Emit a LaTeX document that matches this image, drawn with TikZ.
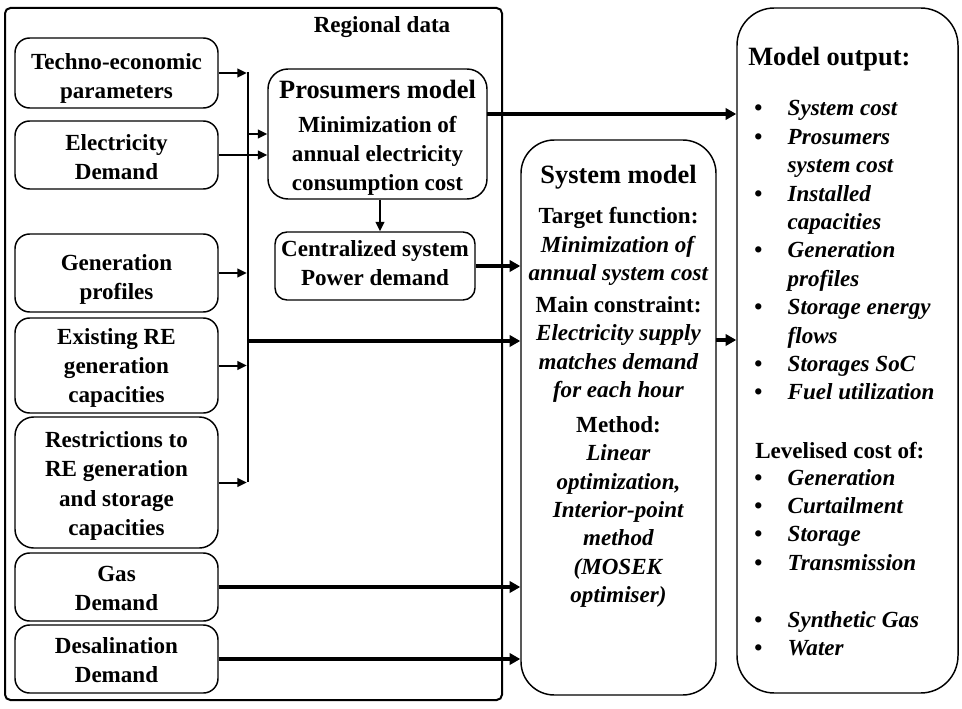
\documentclass[tikz,border=0pt]{standalone}
\usepackage{fontspec}
\setmainfont{Liberation Serif}
\usetikzlibrary{arrows.meta,calc}
\newcommand\firstln[1]{\rule{0pt}{\dimexpr 15.05pt + #1pt\relax}}
\newcommand\lastln{\strut}
\begin{document}
\begin{tikzpicture}[x=0.75pt,y=-0.75pt,
  font=\fontsize{17.3}{21.5}\selectfont\bfseries,
  box/.style={draw, line width=1.1pt, align=center, inner sep=0pt},
  inbox/.style={box, rounded corners=11pt, minimum width=152.25pt, font=\fontsize{17.3}{21.8}\selectfont\bfseries},
  big/.style={font=\fontsize{19.8}{22}\selectfont\bfseries},
  thinarr/.style={line width=1.5pt, -{Triangle[length=7pt,width=6.5pt]}},
  thickarr/.style={line width=3pt, -{Triangle[length=8pt,width=8.5pt]}},
  txt/.style={align=center, inner sep=0pt, font=\fontsize{17.3}{21.3}\selectfont\bfseries},
  ]
\useasboundingbox (0,0) rectangle (962,709);

% regional data container
\node[draw, line width=1.5pt, rounded corners=4pt, minimum width=372.75pt, minimum height=519pt, inner sep=0pt] (region) at (253.5,354) {};
\node[inner sep=0pt] (regtitle) at (382,27) {Regional data};

% input boxes
\node[inbox, minimum height=52.5pt] (techno) at (116.5,73) {\firstln{8.5}Techno-economic\\parameters\lastln};
\node[inbox, minimum height=51pt] (elec) at (116.5,155) {\firstln{6}Electricity\\Demand\lastln};
\node[inbox, minimum height=58.5pt] (gen) at (116.5,273) {\firstln{10}Generation\\profiles\lastln};
\node[inbox, minimum height=71.25pt] (exist) at (116.5,365.5) {\firstln{3}Existing RE\\generation\\capacities\lastln};
\node[inbox, minimum height=98.25pt, rounded corners=14pt] (restr) at (116.5,482.5) {\firstln{5}Restrictions to\\RE generation\\and storage\\capacities\lastln};
\node[inbox, minimum height=51pt] (gas) at (116.5,587) {\firstln{4.5}Gas\\Demand\lastln};
\node[inbox, minimum height=51pt] (desal) at (116.5,659) {\firstln{4.5}Desalination\\Demand\lastln};

% prosumers model
\node[box, rounded corners=15pt, minimum width=164.25pt, minimum height=97.5pt] (pros) at (377.5,134)
  {\rule{0pt}{22pt}{\fontsize{19.8}{22}\selectfont Prosumers model}\\[4pt]Minimization of\\annual electricity\\consumption cost\lastln};
\node[box, rounded corners=9pt, minimum width=150pt, minimum height=51pt] (cent) at (375,266)
  {\firstln{-1}Centralized system\\Power demand\lastln};

% system model
\node[box, rounded corners=25pt, minimum width=146.25pt, minimum height=416.25pt] (sys) at (618.5,417.5) {};
\node[big, inner sep=0pt] (systitle) at (618.5,177) {System model};
\node[txt] (target) at (618.5,246.5) {Target function:\\\textit{Minimization of}\\\textit{annual system cost}};
\node[txt] (constr) at (618.5,349.5) {Main constraint:\\\textit{Electricity supply}\\\textit{matches demand}\\\textit{for each hour}};
\node[txt] (method) at (618.5,512) {Method:\\\textit{Linear}\\\textit{optimization,}\\\textit{Interior-point}\\\textit{method}\\\textit{(MOSEK}\\\textit{optimiser)}};

% model output
\node[box, rounded corners=28pt, minimum width=165.75pt, minimum height=513.75pt] (out) at (847.5,350.5) {};
\node[big, inner sep=0pt, anchor=west] (outtitle) at (748,59) {Model output:};
\node[inner sep=0pt, anchor=base west, font=\fontsize{17.3}{21.3}\selectfont\bfseries] (list1) at (754,116)
  {\begin{tabular}[t]{@{}c@{\hspace{19pt}}l@{}}
   \textbullet & \textit{System cost}\\
   \textbullet & \textit{Prosumers}\\
               & \textit{system cost}\\
   \textbullet & \textit{Installed}\\
               & \textit{capacities}\\
   \textbullet & \textit{Generation}\\
               & \textit{profiles}\\
   \textbullet & \textit{Storage energy}\\
               & \textit{flows}\\
   \textbullet & \textit{Storages SoC}\\
   \textbullet & \textit{Fuel utilization}
   \end{tabular}};
\node[inner sep=0pt, anchor=west] (lev) at (755,451) {Levelised cost of:};
\node[inner sep=0pt, anchor=base west, font=\fontsize{17.3}{21.3}\selectfont\bfseries] (list2) at (754,485)
  {\begin{tabular}[t]{@{}c@{\hspace{19pt}}l@{}}
   \textbullet & \textit{Generation}\\
   \textbullet & \textit{Curtailment}\\
   \textbullet & \textit{Storage}\\
   \textbullet & \textit{Transmission}\\
               & \\
   \textbullet & \textit{Synthetic Gas}\\
   \textbullet & \textit{Water}
   \end{tabular}};

% bus
\coordinate (busTop) at (248,72);
\coordinate (busBot) at (248,482);
\coordinate (busP) at (248,134);
\coordinate (busM) at (248,341);
\draw[line width=2.2pt] (busTop) -- (busBot);

% arrows into bus
\draw[thinarr] (techno.east) -- ([xshift=-1pt]techno.east -| busTop);
\draw[thinarr] (gen.east) -- ([xshift=-1pt]gen.east -| busTop);
\draw[thinarr] (exist.east) -- ([xshift=-1pt]exist.east -| busTop);
\draw[thinarr] (restr.east) -- ([xshift=-1pt]restr.east -| busTop);
% into prosumers
\draw[thinarr] (busP) -- (busP -| pros.west);
\draw[thinarr] (elec.east) -- (elec.east -| pros.west);
\draw[thinarr] (pros.south -| 380,0) -- (cent.north -| 380,0);

% thick arrows
\coordinate (prosOut) at (487,114);
\draw[thickarr] (prosOut) -- (prosOut -| out.west);
\draw[thickarr] (cent.east) -- (cent.east -| sys.west);
\draw[thickarr] (busM) -- (busM -| sys.west);
\draw[thickarr] (gas.east) -- (gas.east -| sys.west);
\draw[thickarr] (desal.east) -- (desal.east -| sys.west);
\coordinate (sysOut) at (716,340);
\draw[thickarr] (sysOut) -- (sysOut -| out.west);
\end{tikzpicture}
\end{document}
